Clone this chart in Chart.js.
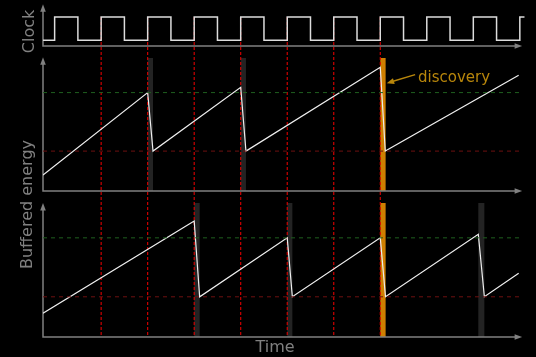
<!DOCTYPE html>
<html>
<head>
<meta charset="utf-8">
<script src="https://cdn.jsdelivr.net/npm/chart.js@4/dist/chart.umd.min.js"></script>
<style>
  html, body { margin: 0; padding: 0; background: #000; }
  #wrap { width: 536px; height: 357px; }
</style>
</head>
<body>
<div id="wrap"><canvas id="chart" width="536" height="357"></canvas></div>
<script>
// clock signal (time in quarter periods, level 0..1)
const clockT = [0, 1, 3, 5, 7, 9, 11, 13, 15, 17, 19, 21, 23, 25, 27, 29, 31, 33, 35, 37, 39, 41, 41.4];
const clockV = [0.2, 1, 0.2, 1, 0.2, 1, 0.2, 1, 0.2, 1, 0.2, 1, 0.2, 1, 0.2, 1, 0.2, 1, 0.2, 1, 0.2, 1, 1];

// rising edges marked by red dashed lines
const markerT = [5, 9, 13, 17, 21, 25, 29];

// buffered energy, upper panel
const midT = [0, 9, 9.46, 17, 17.45, 29, 29.43, 40.9];
const midV = [0.12, 0.74, 0.30, 0.78, 0.30, 0.93, 0.30, 0.87];

// buffered energy, lower panel
const botT = [0, 13, 13.47, 21, 21.44, 29, 29.45, 37.43, 37.95, 40.9];
const botV = [0.177, 0.866, 0.30, 0.74, 0.30, 0.74, 0.30, 0.766, 0.30, 0.475];

// thresholds
const thresholdHigh = 0.74;
const thresholdLow = 0.30;

// transfer windows (bars)
const midBarStart = [9, 17, 29];
const midBarEnd = [9.46, 17.45, 29.46];
const midBarKind = ['gray', 'gray', 'orange'];
const botBarStart = [13, 21, 29, 37.43];
const botBarEnd = [13.47, 21.44, 29.46, 37.95];
const botBarKind = ['gray', 'gray', 'orange', 'gray'];

// layout (pixels)
const X0 = 43, PX_PER_T = 11.63, X_MAX = 41.6, X_AXIS_END = 41.2;
const AREA_TOP = 5, AREA_BOTTOM = 337;

function yRange(zeroPx, onePx) {
    const ppu = zeroPx - onePx;
    const min = -(AREA_BOTTOM - zeroPx) / ppu;
    return { min: min, max: min + (AREA_BOTTOM - AREA_TOP) / ppu };
}

const rClock = yRange(46, 17);
const rMid = yRange(191, 58);
const rBot = yRange(337, 203);

const pts = (ts, vs) => ts.map((t, i) => ({ x: t, y: vs[i] }));
const hline = v => [{ x: 0, y: v }, { x: X_AXIS_END, y: v }];

const FONT = '"DejaVu Sans", sans-serif';
const AXIS_COLOR = '#808080';
const BAR_COLORS = { gray: '#232323', orange: '#cf7f00' };

function arrowHead(ctx, x, y, dx, dy, len, half) {
    const nx = -dy, ny = dx;
    ctx.beginPath();
    ctx.moveTo(x, y);
    ctx.lineTo(x - dx * len + nx * half, y - dy * len + ny * half);
    ctx.lineTo(x - dx * len - nx * half, y - dy * len - ny * half);
    ctx.closePath();
    ctx.fill();
}

const panelsPlugin = {
    id: 'panels',
    beforeDatasetsDraw(chart) {
        const ctx = chart.ctx;
        const x = chart.scales.x;
        const yC = chart.scales.yClock, yM = chart.scales.yMid, yB = chart.scales.yBot;
        ctx.save();

        // bars
        const drawBars = (starts, ends, kinds, ys) => {
            starts.forEach((s, i) => {
                const l = x.getPixelForValue(s), r = x.getPixelForValue(ends[i]);
                const top = ys.getPixelForValue(1), bot = ys.getPixelForValue(0);
                ctx.fillStyle = BAR_COLORS[kinds[i]];
                ctx.fillRect(l, top, r - l, bot - top);
            });
        };
        drawBars(midBarStart, midBarEnd, midBarKind, yM);
        drawBars(botBarStart, botBarEnd, botBarKind, yB);

        // red markers
        ctx.strokeStyle = '#e00000';
        ctx.lineWidth = 1.1;
        ctx.setLineDash([3, 2]);
        markerT.forEach(t => {
            const px = x.getPixelForValue(t);
            ctx.beginPath();
            ctx.moveTo(px, yC.getPixelForValue(1));
            ctx.lineTo(px, yB.getPixelForValue(0));
            ctx.stroke();
        });
        ctx.setLineDash([]);

        // axes with arrows
        ctx.strokeStyle = AXIS_COLOR;
        ctx.fillStyle = AXIS_COLOR;
        ctx.lineWidth = 1.5;
        const xl = x.getPixelForValue(0), xr = x.getPixelForValue(X_AXIS_END);
        [[yC, 1.44], [yM, 1.005], [yB, 1.0]].forEach(([ys, topV]) => {
            const base = ys.getPixelForValue(0), tip = ys.getPixelForValue(topV);
            ctx.beginPath();
            ctx.moveTo(xl, tip + 5);
            ctx.lineTo(xl, base);
            ctx.lineTo(xr - 5, base);
            ctx.stroke();
            arrowHead(ctx, xl, tip, 0, -1, 7.5, 2.8);
            arrowHead(ctx, xr, base, 1, 0, 7.5, 2.8);
        });
        ctx.restore();
    },
    afterDatasetsDraw(chart) {
        const ctx = chart.ctx;
        const x = chart.scales.x, yM = chart.scales.yMid;
        ctx.save();

        // annotation
        const gold = '#b8860b';
        const tx = x.getPixelForValue(32.0), ty = yM.getPixelForValue(0.875);
        const hx = x.getPixelForValue(29.55), hy = yM.getPixelForValue(0.81);
        const d = Math.hypot(hx - tx, hy - ty);
        const ux = (hx - tx) / d, uy = (hy - ty) / d;
        ctx.strokeStyle = gold;
        ctx.fillStyle = gold;
        ctx.lineWidth = 1.5;
        ctx.beginPath();
        ctx.moveTo(tx, ty);
        ctx.lineTo(hx - ux * 5, hy - uy * 5);
        ctx.stroke();
        arrowHead(ctx, hx, hy, ux, uy, 7.5, 3);
        ctx.font = '15px ' + FONT;
        ctx.textAlign = 'left';
        ctx.textBaseline = 'alphabetic';
        ctx.fillText('discovery', x.getPixelForValue(32.25), yM.getPixelForValue(0.823));

        // axis labels
        ctx.fillStyle = AXIS_COLOR;
        ctx.font = '16px ' + FONT;
        ctx.textAlign = 'center';
        ctx.fillText('Time', 275, 352);
        const vtext = (txt, cx, cy) => {
            ctx.save();
            ctx.translate(cx, cy);
            ctx.rotate(-Math.PI / 2);
            ctx.fillText(txt, 0, 0);
            ctx.restore();
        };
        vtext('Clock', 33.5, 31.5);
        vtext('Buffered energy', 31.5, 204.5);
        ctx.restore();
    }
};

const lineBase = { type: 'line', pointRadius: 0, fill: false, tension: 0 };

new Chart(document.getElementById('chart'), {
    type: 'line',
    data: {
        datasets: [
            Object.assign({}, lineBase, { data: hline(thresholdHigh), yAxisID: 'yMid', borderColor: '#1f5f1f', borderWidth: 1, borderDash: [4, 4] }),
            Object.assign({}, lineBase, { data: hline(thresholdLow), yAxisID: 'yMid', borderColor: '#6e1010', borderWidth: 1, borderDash: [4, 4] }),
            Object.assign({}, lineBase, { data: hline(thresholdHigh), yAxisID: 'yBot', borderColor: '#1f5f1f', borderWidth: 1, borderDash: [4, 4] }),
            Object.assign({}, lineBase, { data: hline(thresholdLow), yAxisID: 'yBot', borderColor: '#6e1010', borderWidth: 1, borderDash: [4, 4] }),
            Object.assign({}, lineBase, { data: pts(clockT, clockV), yAxisID: 'yClock', stepped: true, borderColor: '#dddddd', borderWidth: 1.5 }),
            Object.assign({}, lineBase, { data: pts(midT, midV), yAxisID: 'yMid', borderColor: '#eeeeee', borderWidth: 1.2 }),
            Object.assign({}, lineBase, { data: pts(botT, botV), yAxisID: 'yBot', borderColor: '#eeeeee', borderWidth: 1.2 })
        ]
    },
    options: {
        responsive: false,
        devicePixelRatio: 1,
        animation: false,
        events: [],
        layout: {
            padding: {
                left: X0,
                right: 536 - (X0 + X_MAX * PX_PER_T),
                top: AREA_TOP,
                bottom: 357 - AREA_BOTTOM
            }
        },
        plugins: { legend: { display: false }, tooltip: { enabled: false } },
        scales: {
            x: { type: 'linear', min: 0, max: X_MAX, display: false },
            yClock: { type: 'linear', min: rClock.min, max: rClock.max, display: false },
            yMid: { type: 'linear', min: rMid.min, max: rMid.max, display: false },
            yBot: { type: 'linear', min: rBot.min, max: rBot.max, display: false }
        }
    },
    plugins: [panelsPlugin]
});
</script>
</body>
</html>
